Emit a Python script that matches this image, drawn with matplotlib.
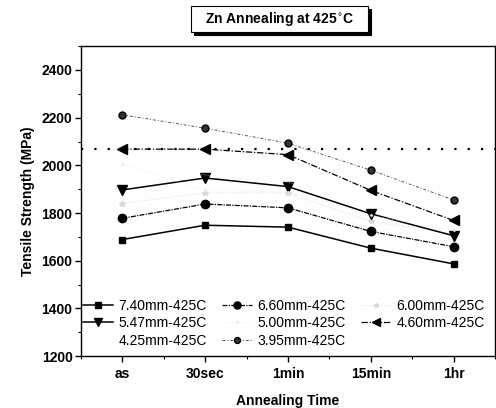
import numpy as np
import matplotlib.pyplot as plt
from matplotlib.ticker import MultipleLocator
from matplotlib.patches import Rectangle

plt.rcParams['font.family'] = ['Liberation Sans', 'DejaVu Sans']

# Data
times = ['as', '30sec', '1min', '15min', '1hr']
s740 = [1689, 1749, 1741, 1653, 1587]
s660 = [1778, 1838, 1822, 1723, 1659]
s600 = [1840, 1885, 1885, 1765, 1712]
s547 = [1897, 1947, 1911, 1797, 1705]
s500 = [2005, 1895, 1890, 1790, 1727]
s460 = [2068, 2068, 2045, 1895, 1769]
s425 = [1990, 1960, 1930, 1830, 1740]
s395 = [2212, 2156, 2093, 1980, 1855]
ref_level = 2068

x = np.arange(len(times))

fig = plt.figure(figsize=(4.96, 4.08), dpi=100)
ax = fig.add_axes([0.163, 0.127, 0.835, 0.76])

h740, = ax.plot(x, s740, '-', color='black', lw=1.1, marker='s', ms=5, label='7.40mm-425C')
h660, = ax.plot(x, s660, linestyle=(0, (4, 1, 1, 1)), color='black', lw=0.9, marker='o', ms=6, label='6.60mm-425C')
h600, = ax.plot(x, s600, ':', color='#d8d8d8', lw=0.6, marker='*', ms=4, label='6.00mm-425C')
h547, = ax.plot(x, s547, '-', color='black', lw=1.1, marker='v', ms=7, label='5.47mm-425C')
h500, = ax.plot(x, s500, ':', color='#e8e8e8', lw=0.5, marker='.', ms=2, label='5.00mm-425C')
h460, = ax.plot(x, s460, linestyle=(0, (5, 1.5, 1, 1.5)), color='black', lw=0.9, marker='<', ms=7, label='4.60mm-425C')
h425, = ax.plot(x, s425, ':', color='white', lw=0.5, label='4.25mm-425C')
h395, = ax.plot(x, s395, linestyle=(0, (3, 2, 1, 2)), color='#555555', lw=0.7, marker='o', ms=5,
                markerfacecolor='#333333', markeredgecolor='black', label='3.95mm-425C')

ax.axhline(ref_level, color='black', lw=1.6, linestyle=(0, (1, 5)))

ax.set_xlim(-0.5, 4.5)
ax.set_ylim(1200, 2500)
ax.set_xticks(x)
ax.set_xticklabels(times, fontsize=10, fontweight='bold')
ax.xaxis.set_minor_locator(MultipleLocator(0.5))
ax.yaxis.set_major_locator(MultipleLocator(200))
ax.yaxis.set_minor_locator(MultipleLocator(100))
for lab in ax.get_yticklabels():
    lab.set_fontsize(10)
    lab.set_fontweight('bold')
ax.tick_params(axis='both', which='major', direction='out', length=4, width=1, pad=2)
ax.tick_params(axis='both', which='minor', direction='out', length=2, width=0.8)
ax.tick_params(axis='x', pad=4)
for sp in ax.spines.values():
    sp.set_linewidth(1.0)

ax.set_xlabel('Annealing Time', fontsize=10, fontweight='bold', labelpad=9)
ax.set_ylabel('Tensile Strength (MPa)', fontsize=10, fontweight='bold', labelpad=5)

# legend filled row by row, as in the original
order = [h740, h547, h425, h660, h500, h395, h600, h460]
ax.legend(handles=order, loc='upper left', bbox_to_anchor=(0.004, 0.185), ncol=3, frameon=False,
          fontsize=10, handlelength=2.2, handletextpad=0.4, columnspacing=1.05,
          labelspacing=0.25, borderaxespad=0, borderpad=0, markerscale=0.85)

# title box with shadow
bx0, by0, bw, bh = 191 / 496, 1 - 32 / 408, 177 / 496, 26 / 408
fig.patches.append(Rectangle((bx0 + 3 / 496, by0 - 3 / 408), bw, bh, transform=fig.transFigure,
                             facecolor='black', edgecolor='black', lw=0.8))
fig.patches.append(Rectangle((bx0, by0), bw, bh, transform=fig.transFigure,
                             facecolor='white', edgecolor='black', lw=0.8))
fig.text(bx0 + bw / 2, by0 + bh / 2, 'Zn Annealing at 425$^{\\circ}$C', fontsize=10, fontweight='bold',
         ha='center', va='center')

fig.savefig('out.png', dpi=100)
